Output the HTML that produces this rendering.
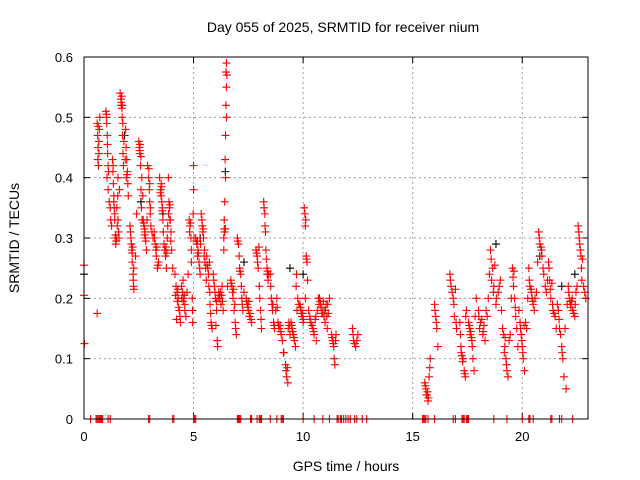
<!DOCTYPE html>
<html><head><meta charset="utf-8"><style>
html,body{margin:0;padding:0;background:#fff;}
svg{display:block;font-family:"Liberation Sans",sans-serif;}
</style></head><body>
<svg id="chart" width="640" height="480" viewBox="0 0 640 480">
<text x="343" y="32" font-size="14" text-anchor="middle">Day 055 of 2025, SRMTID for receiver nium</text>
<text x="346" y="471" font-size="14" text-anchor="middle">GPS time / hours</text>
<text transform="translate(19,238) rotate(-90)" font-size="14" text-anchor="middle">SRMTID / TECUs</text>
<g id="grid"></g><g id="ticks"></g><g id="marks"></g>
<rect x="84" y="57" width="504" height="362" fill="none" stroke="#000" stroke-width="1"/>
</svg>
<script>
const xTicks=[0,5,10,15,20];
const yTicks=[0,0.1,0.2,0.3,0.4,0.5,0.6];
const yTickLabels=["0","0.1","0.2","0.3","0.4","0.5","0.6"];
const redPoints=[
[0,0.255],[0,0.205],[0.02,0.125],[0.6,0.175],
[0.6,0.49],[0.62,0.47],[0.64,0.45],[0.66,0.42],[0.7,0.48],[0.72,0.50],[0.68,0.44],
[1.0,0.51],[1.02,0.50],[1.04,0.49],[1.06,0.47],[1.08,0.44],[1.1,0.42],[1.05,0.40],[1.1,0.38],
[1.3,0.43],[1.32,0.41],[1.34,0.39],[1.36,0.37],[1.38,0.35],[1.4,0.33],[1.42,0.30],[1.45,0.29],[1.33,0.42],
[1.5,0.30],[1.52,0.32],[1.5,0.35],[1.54,0.37],[1.55,0.40],[1.58,0.31],[1.6,0.30],
[1.65,0.54],[1.68,0.53],[1.7,0.52],[1.72,0.535],[1.74,0.50],[1.76,0.47],[1.78,0.44],[1.8,0.42],[1.75,0.52],
[1.9,0.48],[1.92,0.45],[1.95,0.43],[1.98,0.41],[2.0,0.39],[1.96,0.405],
[2.1,0.32],[2.14,0.30],[2.18,0.28],[2.2,0.26],[2.24,0.24],[2.26,0.22],[2.22,0.285],[2.28,0.215],
[2.5,0.46],[2.52,0.45],[2.55,0.44],[2.58,0.42],[2.6,0.38],[2.62,0.35],[2.65,0.33],[2.56,0.455],
[2.7,0.33],[2.74,0.32],[2.78,0.31],[2.8,0.30],[2.85,0.28],[2.76,0.315],
[2.9,0.42],[2.95,0.40],[2.98,0.38],[3.0,0.36],[3.02,0.34],[3.05,0.32],[2.96,0.415],
[3.2,0.31],[3.25,0.29],[3.3,0.27],[3.35,0.25],[3.4,0.26],[3.28,0.28],
[3.45,0.40],[3.5,0.38],[3.52,0.37],[3.55,0.36],[3.58,0.35],[3.6,0.33],[3.54,0.385],
[3.65,0.29],[3.7,0.28],[3.72,0.27],[3.76,0.25],[3.8,0.30],[3.74,0.285],
[3.85,0.40],[3.88,0.36],[3.9,0.35],[3.94,0.33],[3.97,0.31],[4.0,0.28],[3.92,0.355],
[4.15,0.24],[4.2,0.22],[4.25,0.21],[4.3,0.20],[4.35,0.18],[4.4,0.16],[4.28,0.215],[4.22,0.165],
[4.45,0.22],[4.5,0.21],[4.55,0.20],[4.6,0.19],[4.65,0.17],[4.52,0.23],[4.58,0.205],
[4.8,0.33],[4.84,0.32],[4.88,0.30],[4.9,0.26],[4.94,0.20],[4.96,0.16],[5.0,0.42],[5.0,0.38],[4.98,0.34],
[5.1,0.30],[5.15,0.29],[5.2,0.28],[5.25,0.26],[5.3,0.24],[5.18,0.295],
[5.35,0.34],[5.4,0.32],[5.45,0.30],[5.5,0.28],[5.55,0.25],[5.42,0.31],
[5.6,0.27],[5.65,0.25],[5.7,0.22],[5.75,0.19],[5.8,0.16],[5.85,0.15],[5.72,0.26],
[5.9,0.24],[5.95,0.22],[6.0,0.20],[6.05,0.18],[6.08,0.13],[6.1,0.12],[6.02,0.155],
[6.15,0.21],[6.2,0.20],[6.25,0.19],[6.3,0.22],[6.35,0.18],[6.28,0.205],
[6.5,0.59],[6.52,0.57],[6.5,0.55],[6.48,0.52],[6.5,0.50],[6.46,0.47],[6.44,0.43],[6.46,0.40],[6.42,0.36],[6.4,0.33],[6.42,0.31],[6.38,0.28],[6.44,0.315],
[6.7,0.23],[6.75,0.22],[6.8,0.20],[6.85,0.18],[6.9,0.16],[6.95,0.14],[6.82,0.215],
[7.0,0.30],[7.05,0.29],[7.1,0.25],[7.15,0.24],[7.2,0.20],[7.25,0.18],[7.12,0.245],
[7.4,0.20],[7.45,0.19],[7.5,0.18],[7.55,0.17],[7.65,0.16],[7.52,0.195],
[7.85,0.28],[7.9,0.27],[7.95,0.25],[8.0,0.22],[8.05,0.18],[8.1,0.15],[7.98,0.285],
[8.2,0.36],[8.25,0.34],[8.28,0.31],[8.3,0.28],[8.35,0.25],[8.4,0.23],[8.38,0.245],
[8.5,0.24],[8.55,0.20],[8.6,0.18],[8.65,0.16],[8.7,0.15],[8.62,0.19],
[8.8,0.20],[8.85,0.16],[8.9,0.15],[9.0,0.14],[9.1,0.11],[8.95,0.155],
[9.2,0.09],[9.25,0.07],[9.3,0.06],[9.35,0.16],[9.4,0.14],[9.28,0.085],
[9.45,0.16],[9.5,0.15],[9.55,0.14],[9.6,0.13],[9.65,0.12],[9.7,0.24],[9.75,0.20],
[9.85,0.19],[9.9,0.18],[9.95,0.17],[10.0,0.16],[10.1,0.20],[9.98,0.175],
[10.05,0.35],[10.08,0.34],[10.1,0.32],[10.14,0.27],[10.18,0.26],[10.2,0.23],
[10.3,0.17],[10.35,0.16],[10.45,0.15],[10.5,0.14],[10.6,0.13],[10.7,0.20],[10.55,0.165],
[10.75,0.20],[10.8,0.19],[10.9,0.18],[10.95,0.17],[11.0,0.16],[11.1,0.15],[11.2,0.20],[11.05,0.19],[10.85,0.175],
[11.3,0.14],[11.35,0.13],[11.4,0.12],[11.42,0.10],[11.45,0.09],[11.5,0.14],
[12.25,0.15],[12.3,0.13],[12.4,0.12],[12.5,0.14],[12.35,0.125],
[15.55,0.06],[15.6,0.05],[15.65,0.04],[15.7,0.03],[15.75,0.07],[15.8,0.10],[15.68,0.045],
[16.0,0.19],[16.05,0.17],[16.1,0.15],[16.15,0.12],
[16.7,0.24],[16.75,0.22],[16.85,0.20],[16.9,0.17],[17.0,0.15],[16.95,0.215],
[17.15,0.16],[17.2,0.12],[17.3,0.10],[17.35,0.08],[17.4,0.07],[17.45,0.18],[17.25,0.105],
[17.55,0.16],[17.6,0.15],[17.7,0.13],[17.75,0.10],[17.8,0.08],[17.9,0.20],[17.65,0.145],
[18.0,0.18],[18.1,0.16],[18.2,0.14],[18.3,0.13],[18.4,0.17],[18.45,0.20],[18.25,0.155],
[18.55,0.28],[18.65,0.25],[18.7,0.22],[18.8,0.19],[18.9,0.21],[19.0,0.23],[18.75,0.255],
[19.1,0.15],[19.2,0.12],[19.25,0.10],[19.3,0.08],[19.35,0.07],[19.45,0.14],[19.22,0.135],
[19.55,0.25],[19.6,0.22],[19.65,0.20],[19.7,0.17],[19.8,0.12],[19.62,0.245],
[19.9,0.16],[19.95,0.14],[20.0,0.12],[20.05,0.10],[20.1,0.08],[20.2,0.15],[20.08,0.155],
[20.3,0.25],[20.35,0.22],[20.45,0.20],[20.5,0.19],[20.55,0.18],[20.65,0.21],[20.4,0.215],
[20.75,0.31],[20.8,0.29],[20.9,0.27],[20.95,0.25],[21.05,0.22],[20.85,0.285],
[21.2,0.26],[21.25,0.23],[21.3,0.20],[21.4,0.18],[21.5,0.17],[21.55,0.15],[21.35,0.225],
[21.65,0.18],[21.7,0.15],[21.8,0.12],[21.85,0.10],[21.9,0.07],[22.0,0.05],
[22.1,0.22],[22.15,0.20],[22.2,0.19],[22.3,0.18],[22.4,0.17],[22.45,0.21],[22.25,0.195],
[22.55,0.32],[22.6,0.30],[22.65,0.28],[22.7,0.25],[22.8,0.22],[22.9,0.20],[22.75,0.265]
];
const extraRedPoints=[
[0.65,0.485],[0.68,0.46],[0.63,0.43],[1.03,0.505],[1.07,0.455],[1.12,0.41],[1.15,0.36],[1.2,0.35],[1.22,0.33],[1.26,0.32],
[1.4,0.34],[1.44,0.305],[1.47,0.295],[1.36,0.36],[1.55,0.33],[1.62,0.38],[1.69,0.525],[1.73,0.515],[1.77,0.49],[1.82,0.46],
[1.88,0.43],[1.93,0.40],[2.02,0.37],[2.12,0.31],[2.16,0.29],[2.2,0.275],[2.25,0.23],[2.27,0.25],[2.35,0.27],[2.4,0.34],
[2.54,0.445],[2.6,0.435],[2.64,0.40],[2.68,0.37],[2.72,0.325],[2.77,0.305],[2.82,0.295],[2.88,0.33],[3.0,0.39],[3.03,0.35],
[3.1,0.31],[3.15,0.30],[3.22,0.30],[3.32,0.285],[3.38,0.255],[3.48,0.375],[3.52,0.39],[3.57,0.345],[3.62,0.31],[3.68,0.28],
[3.78,0.275],[3.82,0.32],[3.86,0.34],[3.92,0.33],[3.96,0.295],[4.05,0.25],[4.18,0.205],[4.26,0.195],[4.32,0.185],[4.38,0.17],
[4.46,0.20],[4.53,0.195],[4.6,0.18],[4.7,0.21],[4.75,0.24],[4.82,0.31],[4.86,0.325],[4.9,0.28],[4.95,0.18],[5.02,0.30],
[5.12,0.295],[5.18,0.27],[5.22,0.275],[5.28,0.25],[5.32,0.29],[5.38,0.33],[5.44,0.315],[5.48,0.27],[5.52,0.26],[5.58,0.23],
[5.62,0.255],[5.68,0.24],[5.74,0.21],[5.78,0.175],[5.82,0.155],[5.92,0.23],[5.98,0.21],[6.04,0.195],[6.12,0.20],[6.18,0.205],
[6.22,0.21],[6.32,0.195],[6.38,0.30],[6.4,0.315],[6.45,0.315],[6.48,0.575],[6.55,0.22],[6.72,0.225],[6.78,0.21],[6.88,0.19],
[6.92,0.15],[7.02,0.295],[7.08,0.27],[7.18,0.22],[7.22,0.19],[7.3,0.21],[7.42,0.195],[7.48,0.185],[7.58,0.175],[7.62,0.165],
[7.88,0.275],[7.92,0.26],[8.02,0.20],[8.08,0.165],[8.22,0.35],[8.26,0.32],[8.32,0.265],[8.36,0.24],[8.42,0.24],[8.52,0.22],
[8.58,0.19],[8.68,0.155],[8.75,0.18],[8.82,0.185],[8.88,0.155],[8.98,0.145],[9.05,0.13],[9.12,0.11],[9.22,0.08],[9.32,0.15],
[9.38,0.155],[9.48,0.155],[9.52,0.145],[9.58,0.135],[9.68,0.22],[9.72,0.18],[9.8,0.19],[9.88,0.185],[9.92,0.175],[10.02,0.165],
[10.12,0.33],[10.16,0.265],[10.25,0.18],[10.32,0.165],[10.4,0.155],[10.48,0.145],[10.58,0.17],[10.65,0.18],[10.72,0.19],[10.78,0.195],
[10.82,0.185],[10.88,0.175],[10.92,0.195],[11.02,0.18],[11.08,0.17],[11.12,0.19],[11.15,0.175],[11.32,0.135],[11.38,0.125],[11.48,0.13],
[12.28,0.14],[12.45,0.13],[15.58,0.055],[15.62,0.04],[15.72,0.035],[15.78,0.085],[16.02,0.18],[16.08,0.16],[16.72,0.23],[16.8,0.21],
[16.88,0.19],[16.98,0.16],[17.18,0.14],[17.22,0.11],[17.28,0.095],[17.38,0.075],[17.42,0.17],[17.58,0.155],[17.62,0.14],[17.68,0.135],
[17.72,0.12],[17.85,0.17],[18.02,0.17],[18.05,0.15],[18.15,0.165],[18.22,0.145],[18.35,0.18],[18.5,0.24],[18.58,0.265],[18.6,0.23],
[18.68,0.21],[18.82,0.20],[18.95,0.22],[19.05,0.18],[19.15,0.14],[19.18,0.11],[19.28,0.09],[19.4,0.13],[19.5,0.20],[19.58,0.235],
[19.68,0.185],[19.75,0.15],[19.85,0.18],[19.92,0.15],[19.98,0.13],[20.02,0.11],[20.15,0.16],[20.25,0.20],[20.32,0.23],[20.42,0.21],
[20.48,0.195],[20.58,0.20],[20.7,0.26],[20.78,0.30],[20.88,0.28],[20.98,0.24],[21.1,0.21],[21.15,0.23],[21.22,0.25],[21.28,0.215],
[21.38,0.19],[21.45,0.175],[21.6,0.19],[21.68,0.165],[21.75,0.14],[21.82,0.11],[21.95,0.15],[22.05,0.19],[22.12,0.21],[22.18,0.195],
[22.22,0.185],[22.28,0.2],[22.35,0.175],[22.42,0.19],[22.5,0.22],[22.58,0.31],[22.62,0.29],[22.68,0.27],[22.72,0.23],[22.85,0.21]
];
const blackPoints=[[0,0.24],[1.85,0.47],[2.6,0.36],[3.6,0.34],[5.3,0.3],[6.45,0.41],[7.3,0.26],[9.4,0.25],[10.0,0.24],[11.0,0.18],[18.8,0.29],[20.8,0.27],[21.8,0.22],[22.4,0.24]];
const zeroHours=[0.3,0.55,0.6,0.65,0.7,0.75,0.8,0.85,1.1,1.2,2.95,3.0,4.05,4.1,5.0,5.05,5.1,7.0,7.05,7.1,7.15,7.6,7.65,7.9,8.0,8.05,8.1,8.5,8.8,9.0,9.05,9.1,10.0,10.5,10.9,11.2,11.55,11.6,11.7,11.75,11.85,11.95,12.05,12.15,12.35,12.45,12.7,12.9,15.45,15.5,15.55,15.6,15.7,16.0,16.85,16.95,17.25,17.3,17.35,17.45,17.5,17.55,18.7,19.3,20.0,20.3,20.35,20.5,21.3,21.35,21.7,21.8,22.3];
const X0=84,X1=588,Y0=419,Y1=57,XMAX=23,YMAX=0.6;
function xs(h){return X0+(X1-X0)*h/XMAX;}
function ys(v){return Y0-(Y0-Y1)*v/YMAX;}
const NS="http://www.w3.org/2000/svg";
function mk(tag,attrs,parent){const e=document.createElementNS(NS,tag);for(const k in attrs)e.setAttribute(k,attrs[k]);parent.appendChild(e);return e;}
const grid=document.getElementById('grid'),ticks=document.getElementById('ticks'),marks=document.getElementById('marks');
xTicks.forEach(t=>{const x=xs(t);
 if(t>0){const g=mk('line',{x1:x,x2:x,y1:Y1,y2:Y0,stroke:'#a0a0a0','stroke-dasharray':'2,3'},grid);
 
 }
 const a=mk('line',{x1:x,x2:x,y1:Y0,y2:Y0-6,stroke:'#000'},ticks);
 
 
 const b=mk('line',{x1:x,x2:x,y1:Y1,y2:Y1+6,stroke:'#000'},ticks);
 
 
 const l=mk('text',{x:x,y:Y0+22,'font-size':13,'text-anchor':'middle'},ticks);l.textContent=String(t);
 
 
});
yTicks.forEach((t,i)=>{const y=ys(t);
 if(t>0&&t<YMAX){const g=mk('line',{x1:X0,x2:X1,y1:y,y2:y,stroke:'#a0a0a0','stroke-dasharray':'2,3'},grid);
 
 }
 const a=mk('line',{x1:X0,x2:X0+6,y1:y,y2:y,stroke:'#000'},ticks);
 
 
 const b=mk('line',{x1:X1,x2:X1-6,y1:y,y2:y,stroke:'#000'},ticks);
 
 
 const l=mk('text',{x:X0-11,y:y+5,'font-size':13,'text-anchor':'end'},ticks);l.textContent=yTickLabels[i];
 
 
});
function plus(h,v,color,name){const x=xs(h),y=ys(v);
 const p=mk('path',{d:`M${x-4},${y}H${x+4}M${x},${y-4}V${y+4}`,stroke:color,'stroke-width':1.1,fill:'none'},marks);
 
 }
blackPoints.forEach(p=>plus(p[0],p[1],'#000','black-point'));
redPoints.forEach(p=>plus(p[0],p[1],'#ff0000','red-point'));
extraRedPoints.forEach(p=>plus(p[0],p[1],'#ff0000','red-point'));
zeroHours.forEach(h=>plus(h,0,'#ff0000','zero-point'));
</script>
</body></html>
